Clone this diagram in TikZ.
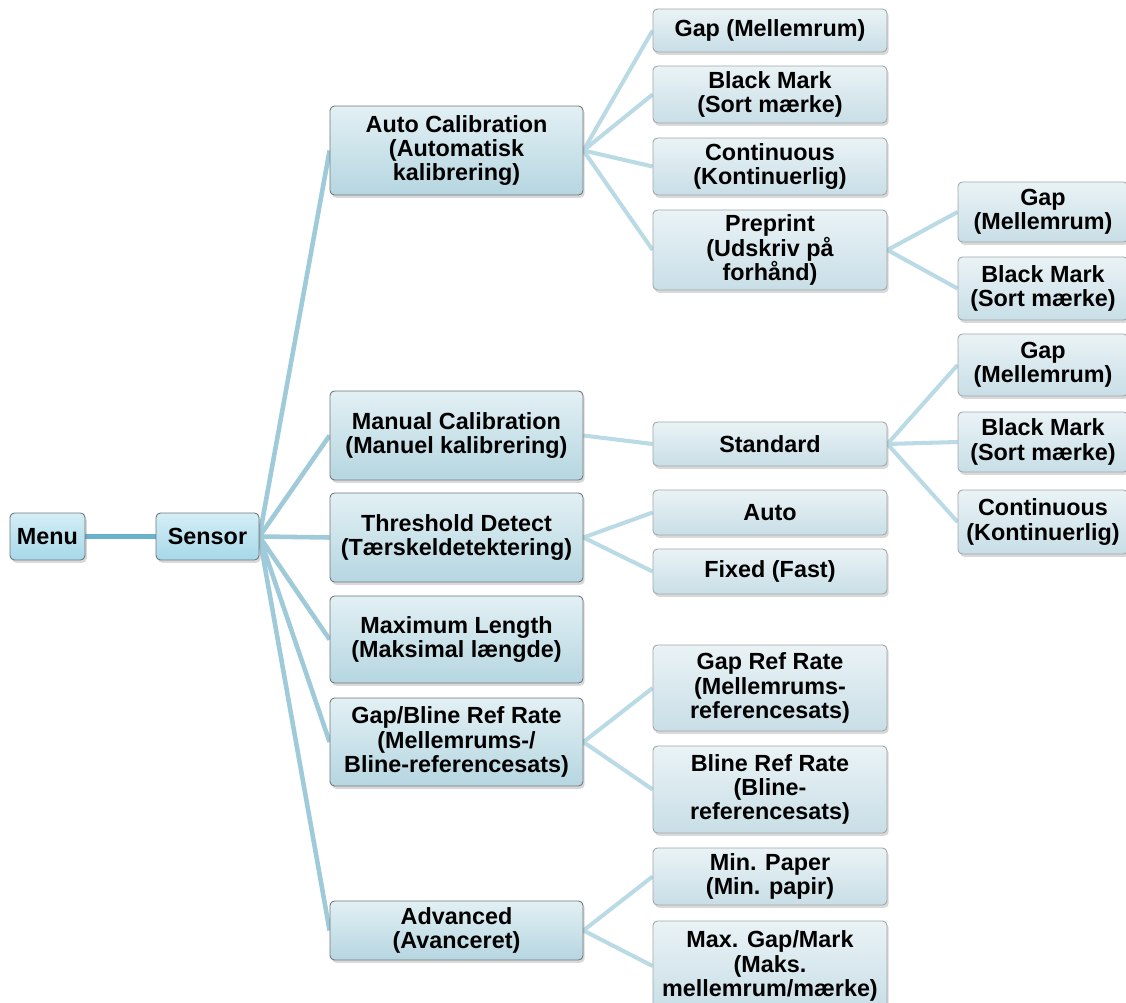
\documentclass[tikz,border=0pt]{standalone}
\usepackage{fontspec}
\setmainfont{Liberation Sans}
\usetikzlibrary{shadows,backgrounds}

\definecolor{roottop}{RGB}{212,238,246}
\definecolor{rootbot}{RGB}{166,216,233}
\definecolor{boxtop}{RGB}{226,240,244}
\definecolor{boxbot}{RGB}{182,214,225}
\definecolor{leaftop}{RGB}{234,243,246}
\definecolor{leafbot}{RGB}{200,222,230}
\definecolor{boxline}{RGB}{110,118,122}
\definecolor{leafline}{RGB}{160,166,170}
\definecolor{linkmain}{RGB}{104,178,204}
\definecolor{linkone}{RGB}{158,202,217}
\definecolor{linktwo}{RGB}{186,219,229}

\begin{document}
\begin{tikzpicture}[x=0.02cm, y=-0.02cm,
  box/.style={draw=boxline, line width=0.5pt, rounded corners=2.5pt,
    top color=boxtop, bottom color=boxbot,
    drop shadow={shadow xshift=1pt, shadow yshift=-1.6pt, opacity=0.3},
    align=center, inner sep=0pt,
    font=\fontsize{13.3}{13.9}\selectfont\bfseries},
  lvone/.style={box, top color=roottop, bottom color=rootbot, minimum height=0.94cm},
  lvtwo/.style={box, minimum width=5.06cm},
  leaf/.style={box, draw=leafline, top color=leaftop, bottom color=leafbot},
  lvthree/.style={leaf, minimum width=4.68cm},
  lvfour/.style={leaf, minimum width=3.4cm},
  link/.style={line width=2.6pt, linkone},
  sublink/.style={line width=2.3pt, linktwo}]
\useasboundingbox (0,0) rectangle (1126,1003);

% Menu og Sensor
\node[lvone, minimum width=1.5cm] (menu) at (47.5,536.5) {Menu};
\node[lvone, minimum width=2.06cm] (sensor) at (207.5,536.5) {Sensor};

% Sensor-undermenuer
\node[lvtwo, minimum height=1.78cm] (autocal) at (456.5,150.5) {Auto Calibration\\(Automatisk\\kalibrering)};
\node[lvtwo, minimum height=1.78cm] (mancal) at (456.5,435.5) {Manual Calibration\\(Manuel kalibrering)};
\node[lvtwo, minimum height=1.78cm] (thresh) at (456.5,537.5) {Threshold Detect\\(Tærskeldetektering)};
\node[lvtwo, minimum height=1.74cm] (maxlen) at (456.5,639.5) {Maximum Length\\(Maksimal længde)};
\node[lvtwo, minimum height=1.76cm] (refrate) at (456.5,742) {Gap/Bline Ref Rate\\(Mellemrums-/\\Bline-referencesats)};
\node[lvtwo, minimum height=1.18cm] (adv) at (456.5,930.5) {Advanced\\(Avanceret)};

% Auto Calibration
\node[lvthree, minimum height=0.86cm] (agap) at (770,30.5) {Gap (Mellemrum)};
\node[lvthree, minimum height=1.14cm] (ablack) at (770,94.5) {Black Mark\\(Sort mærke)};
\node[lvthree, minimum height=1.14cm] (acont) at (770,166.5) {Continuous\\(Kontinuerlig)};
\node[lvthree, minimum height=1.6cm] (apre) at (770,250) {Preprint\\(Udskriv på\\forhånd)};
\node[lvfour, minimum height=1.2cm] (pgap) at (1043,212) {Gap\\(Mellemrum)};
\node[lvfour, minimum height=1.26cm] (pblack) at (1043,288.5) {Black Mark\\(Sort mærke)};

% Manual Calibration
\node[lvthree, minimum height=0.88cm] (std) at (770,444) {Standard};
\node[lvfour, minimum height=1.24cm] (sgap) at (1043,365) {Gap\\(Mellemrum)};
\node[lvfour, minimum height=1.2cm] (sblack) at (1043,442) {Black Mark\\(Sort mærke)};
\node[lvfour, minimum height=1.28cm] (scont) at (1043,522) {Continuous\\(Kontinuerlig)};

% Threshold Detect
\node[lvthree, minimum height=0.9cm] (tauto) at (770,512.5) {Auto};
\node[lvthree, minimum height=0.9cm] (tfixed) at (770,571.5) {Fixed (Fast)};

% Gap/Bline Ref Rate
\node[lvthree, minimum height=1.72cm] (gapref) at (770,688) {Gap Ref Rate\\(Mellemrums-\\referencesats)};
\node[lvthree, minimum height=1.74cm] (blineref) at (770,789.5) {Bline Ref Rate\\(Bline-\\referencesats)};

% Advanced
\node[lvthree, minimum height=1.14cm] (minpaper) at (770,876.5) {Min. Paper\\(Min. papir)};
\node[lvthree, minimum height=1.8cm] (maxgap) at (770,966) {Max. Gap/Mark\\(Maks.\\mellemrum/mærke)};

% forbindelser
\begin{scope}[on background layer]
\draw[line width=3pt, linkmain] (menu.east) -- (sensor.west);
\foreach \n in {autocal,mancal,thresh,maxlen,refrate,adv}
  \draw[link] (sensor.east) -- (\n.west);
\foreach \n in {agap,ablack,acont,apre}
  \draw[sublink] (autocal.east) -- (\n.west);
\foreach \n in {pgap,pblack}
  \draw[sublink] (apre.east) -- (\n.west);
\draw[sublink] (mancal.east) -- (std.west);
\foreach \n in {sgap,sblack,scont}
  \draw[sublink] (std.east) -- (\n.west);
\foreach \n in {tauto,tfixed}
  \draw[sublink] (thresh.east) -- (\n.west);
\foreach \n in {gapref,blineref}
  \draw[sublink] (refrate.east) -- (\n.west);
\foreach \n in {minpaper,maxgap}
  \draw[sublink] (adv.east) -- (\n.west);
\end{scope}
\end{tikzpicture}
\end{document}
